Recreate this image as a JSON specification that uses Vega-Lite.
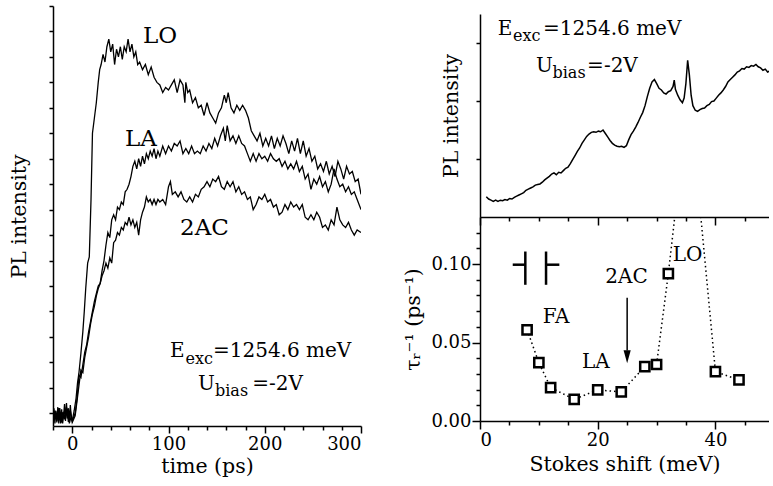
{
  "$schema": "https://vega.github.io/schema/vega-lite/v6.json",
  "background": "white",
  "padding": {"left": 9, "top": 5, "right": 0, "bottom": 0},
  "spacing": 41,
  "columns": 2,
  "align": "none",
  "config": {
    "font": "DejaVu Serif",
    "view": {"stroke": null},
    "axis": {
      "domainColor": "black", "tickColor": "black", "labelColor": "black", "titleColor": "black",
      "domainWidth": 1.5, "tickWidth": 1.5, "grid": false,
      "labelFont": "DejaVu Serif", "titleFont": "DejaVu Serif",
      "labelFontSize": 18, "titleFontSize": 20.5, "titleFontWeight": "normal"
    },
    "text": {"font": "DejaVu Serif", "color": "black"}
  },
  "concat": [
    {
      "width": 308,
      "height": 420,
      "layer": [
        {
          "data": {"values": [
            {"s":"LO","t":-20,"v":0.35},{"s":"LO","t":-19,"v":0.6},{"s":"LO","t":-18,"v":0.3},{"s":"LO","t":-17,"v":0.55},{"s":"LO","t":-16,"v":0.32},{"s":"LO","t":-15,"v":0.62},{"s":"LO","t":-14,"v":0.3},{"s":"LO","t":-13,"v":0.5},{"s":"LO","t":-12,"v":0.33},{"s":"LO","t":-11,"v":0.58},{"s":"LO","t":-10,"v":0.3},{"s":"LO","t":-9,"v":0.45},{"s":"LO","t":-8,"v":0.68},{"s":"LO","t":-7,"v":0.35},{"s":"LO","t":-6,"v":0.7},{"s":"LO","t":-5,"v":0.4},{"s":"LO","t":-4,"v":0.6},{"s":"LO","t":-3,"v":0.35},{"s":"LO","t":-2,"v":0.66},{"s":"LO","t":-1,"v":0.4},{"s":"LO","t":0,"v":0.35},
            {"s":"LO","t":2,"v":0.55},{"s":"LO","t":4,"v":0.8},{"s":"LO","t":5.5,"v":1.1},{"s":"LO","t":7,"v":1.3},{"s":"LO","t":9,"v":1.68},{"s":"LO","t":11,"v":2.1},{"s":"LO","t":12.5,"v":2.5},{"s":"LO","t":14,"v":2.95},{"s":"LO","t":16,"v":3.45},{"s":"LO","t":17.7,"v":3.57},{"s":"LO","t":19.5,"v":4.7},{"s":"LO","t":21,"v":6.0},{"s":"LO","t":23,"v":6.3},{"s":"LO","t":25,"v":6.6},{"s":"LO","t":27,"v":7.0},{"s":"LO","t":28.5,"v":7.25},
            {"s":"LO","t":30,"v":7.35},{"s":"LO","t":32,"v":7.55},{"s":"LO","t":34,"v":7.4},{"s":"LO","t":36,"v":7.7},{"s":"LO","t":38,"v":7.85},{"s":"LO","t":40,"v":7.6},{"s":"LO","t":42,"v":7.75},{"s":"LO","t":44,"v":7.35},{"s":"LO","t":46,"v":7.65},{"s":"LO","t":48,"v":7.5},{"s":"LO","t":50,"v":7.7},{"s":"LO","t":52,"v":7.45},{"s":"LO","t":54,"v":7.7},{"s":"LO","t":56,"v":7.6},{"s":"LO","t":58,"v":7.85},{"s":"LO","t":60,"v":7.6},{"s":"LO","t":62,"v":7.75},{"s":"LO","t":64,"v":7.5},{"s":"LO","t":66,"v":7.6},{"s":"LO","t":68,"v":7.35},{"s":"LO","t":70,"v":7.4},{"s":"LO","t":73,"v":7.25},{"s":"LO","t":76,"v":7.35},{"s":"LO","t":79,"v":7.15},{"s":"LO","t":82,"v":7.3},{"s":"LO","t":85,"v":7.1},{"s":"LO","t":88,"v":7.0},{"s":"LO","t":91,"v":6.95},{"s":"LO","t":94,"v":6.8},{"s":"LO","t":97,"v":6.9},{"s":"LO","t":100,"v":6.85},{"s":"LO","t":103,"v":6.95},{"s":"LO","t":106,"v":7.05},{"s":"LO","t":109,"v":6.8},{"s":"LO","t":112,"v":7.05},{"s":"LO","t":115,"v":6.95},{"s":"LO","t":117,"v":6.6},{"s":"LO","t":118,"v":7.0},{"s":"LO","t":120,"v":6.8},{"s":"LO","t":122,"v":6.85},{"s":"LO","t":125,"v":6.6},{"s":"LO","t":128,"v":6.7},{"s":"LO","t":131,"v":6.5},{"s":"LO","t":134,"v":6.55},{"s":"LO","t":137,"v":6.35},{"s":"LO","t":140,"v":6.6},{"s":"LO","t":143,"v":6.4},{"s":"LO","t":146,"v":6.3},{"s":"LO","t":149,"v":6.2},{"s":"LO","t":152,"v":6.4},{"s":"LO","t":155,"v":6.5},{"s":"LO","t":158,"v":6.75},{"s":"LO","t":160,"v":6.6},{"s":"LO","t":162,"v":6.8},{"s":"LO","t":165,"v":6.5},{"s":"LO","t":168,"v":6.4},{"s":"LO","t":171,"v":6.55},{"s":"LO","t":174,"v":6.45},{"s":"LO","t":177,"v":6.55},{"s":"LO","t":180,"v":6.45},{"s":"LO","t":183,"v":6.3},{"s":"LO","t":186,"v":6.05},{"s":"LO","t":189,"v":5.95},{"s":"LO","t":192,"v":5.85},{"s":"LO","t":195,"v":6.0},{"s":"LO","t":198,"v":5.75},{"s":"LO","t":201,"v":5.9},{"s":"LO","t":204,"v":5.75},{"s":"LO","t":207,"v":5.95},{"s":"LO","t":210,"v":5.7},{"s":"LO","t":213,"v":5.9},{"s":"LO","t":216,"v":5.75},{"s":"LO","t":219,"v":5.95},{"s":"LO","t":222,"v":5.8},{"s":"LO","t":225,"v":5.6},{"s":"LO","t":228,"v":5.85},{"s":"LO","t":231,"v":5.65},{"s":"LO","t":234,"v":5.9},{"s":"LO","t":237,"v":5.6},{"s":"LO","t":240,"v":5.85},{"s":"LO","t":243,"v":5.55},{"s":"LO","t":246,"v":5.7},{"s":"LO","t":249,"v":5.45},{"s":"LO","t":252,"v":5.55},{"s":"LO","t":255,"v":5.3},{"s":"LO","t":258,"v":5.4},{"s":"LO","t":261,"v":5.25},{"s":"LO","t":264,"v":5.45},{"s":"LO","t":267,"v":5.2},{"s":"LO","t":270,"v":5.35},{"s":"LO","t":273,"v":5.15},{"s":"LO","t":276,"v":5.45},{"s":"LO","t":279,"v":5.3},{"s":"LO","t":282,"v":5.1},{"s":"LO","t":285,"v":5.35},{"s":"LO","t":288,"v":5.2},{"s":"LO","t":291,"v":5.25},{"s":"LO","t":294,"v":5.05},{"s":"LO","t":297,"v":5.1},{"s":"LO","t":300,"v":4.8},

            {"s":"LA","t":-20,"v":0.4},{"s":"LA","t":-18,"v":0.55},{"s":"LA","t":-16,"v":0.35},{"s":"LA","t":-14,"v":0.6},{"s":"LA","t":-12,"v":0.3},{"s":"LA","t":-10,"v":0.52},{"s":"LA","t":-8,"v":0.38},{"s":"LA","t":-6,"v":0.62},{"s":"LA","t":-4,"v":0.33},{"s":"LA","t":-2,"v":0.55},{"s":"LA","t":0,"v":0.35},
            {"s":"LA","t":3,"v":0.5},{"s":"LA","t":5,"v":0.8},{"s":"LA","t":7,"v":1.25},{"s":"LA","t":9,"v":1.2},{"s":"LA","t":11,"v":1.45},{"s":"LA","t":13,"v":1.7},{"s":"LA","t":15,"v":1.85},{"s":"LA","t":17,"v":2.1},{"s":"LA","t":19,"v":2.3},{"s":"LA","t":21,"v":2.5},{"s":"LA","t":23,"v":2.7},{"s":"LA","t":25,"v":2.85},{"s":"LA","t":27,"v":3.0},{"s":"LA","t":29,"v":3.05},{"s":"LA","t":31,"v":3.3},{"s":"LA","t":33,"v":3.5},{"s":"LA","t":35,"v":3.8},{"s":"LA","t":37,"v":4.05},{"s":"LA","t":39,"v":3.95},{"s":"LA","t":41,"v":4.3},{"s":"LA","t":43,"v":4.4},{"s":"LA","t":45,"v":4.3},{"s":"LA","t":47,"v":4.55},{"s":"LA","t":49,"v":4.5},{"s":"LA","t":51,"v":4.65},{"s":"LA","t":53,"v":4.6},{"s":"LA","t":55,"v":4.85},{"s":"LA","t":57,"v":4.9},{"s":"LA","t":59,"v":5.0},{"s":"LA","t":61,"v":5.15},{"s":"LA","t":63,"v":5.35},{"s":"LA","t":65,"v":5.45},{"s":"LA","t":67,"v":5.3},{"s":"LA","t":69,"v":5.5},{"s":"LA","t":71,"v":5.35},{"s":"LA","t":73,"v":5.55},{"s":"LA","t":75,"v":5.4},{"s":"LA","t":77,"v":5.6},{"s":"LA","t":79,"v":5.5},{"s":"LA","t":81,"v":5.65},{"s":"LA","t":83,"v":5.55},{"s":"LA","t":85,"v":5.7},{"s":"LA","t":87,"v":5.5},{"s":"LA","t":89,"v":5.65},{"s":"LA","t":91,"v":5.55},{"s":"LA","t":94,"v":5.75},{"s":"LA","t":97,"v":5.6},{"s":"LA","t":100,"v":5.75},{"s":"LA","t":103,"v":5.65},{"s":"LA","t":106,"v":5.8},{"s":"LA","t":109,"v":5.75},{"s":"LA","t":112,"v":5.85},{"s":"LA","t":115,"v":5.6},{"s":"LA","t":118,"v":5.7},{"s":"LA","t":121,"v":5.6},{"s":"LA","t":124,"v":5.75},{"s":"LA","t":127,"v":5.6},{"s":"LA","t":130,"v":5.65},{"s":"LA","t":133,"v":5.6},{"s":"LA","t":136,"v":5.75},{"s":"LA","t":139,"v":5.65},{"s":"LA","t":142,"v":5.8},{"s":"LA","t":145,"v":5.7},{"s":"LA","t":148,"v":5.9},{"s":"LA","t":151,"v":5.75},{"s":"LA","t":154,"v":5.95},{"s":"LA","t":157,"v":6.1},{"s":"LA","t":159,"v":5.85},{"s":"LA","t":161,"v":6.15},{"s":"LA","t":164,"v":5.85},{"s":"LA","t":167,"v":5.95},{"s":"LA","t":170,"v":5.8},{"s":"LA","t":173,"v":5.95},{"s":"LA","t":176,"v":5.8},{"s":"LA","t":179,"v":5.75},{"s":"LA","t":182,"v":5.6},{"s":"LA","t":185,"v":5.45},{"s":"LA","t":188,"v":5.6},{"s":"LA","t":191,"v":5.45},{"s":"LA","t":194,"v":5.6},{"s":"LA","t":197,"v":5.5},{"s":"LA","t":200,"v":5.55},{"s":"LA","t":203,"v":5.45},{"s":"LA","t":206,"v":5.6},{"s":"LA","t":209,"v":5.5},{"s":"LA","t":212,"v":5.45},{"s":"LA","t":215,"v":5.5},{"s":"LA","t":218,"v":5.35},{"s":"LA","t":221,"v":5.45},{"s":"LA","t":224,"v":5.3},{"s":"LA","t":227,"v":5.4},{"s":"LA","t":230,"v":5.3},{"s":"LA","t":233,"v":5.45},{"s":"LA","t":236,"v":5.25},{"s":"LA","t":239,"v":5.35},{"s":"LA","t":242,"v":5.1},{"s":"LA","t":245,"v":5.2},{"s":"LA","t":248,"v":4.9},{"s":"LA","t":251,"v":5.1},{"s":"LA","t":254,"v":5.0},{"s":"LA","t":257,"v":5.15},{"s":"LA","t":260,"v":4.95},{"s":"LA","t":263,"v":5.05},{"s":"LA","t":266,"v":4.85},{"s":"LA","t":269,"v":5.0},{"s":"LA","t":272,"v":5.3},{"s":"LA","t":275,"v":5.1},{"s":"LA","t":278,"v":4.95},{"s":"LA","t":281,"v":5.0},{"s":"LA","t":284,"v":4.85},{"s":"LA","t":287,"v":4.95},{"s":"LA","t":290,"v":4.8},{"s":"LA","t":293,"v":4.85},{"s":"LA","t":296,"v":4.7},{"s":"LA","t":300,"v":4.5},

            {"s":"2AC","t":-20,"v":0.3},{"s":"2AC","t":-17,"v":0.5},{"s":"2AC","t":-15,"v":0.38},{"s":"2AC","t":-13,"v":0.6},{"s":"2AC","t":-11,"v":0.32},{"s":"2AC","t":-9,"v":0.5},{"s":"2AC","t":-7,"v":0.4},{"s":"2AC","t":-5,"v":0.58},{"s":"2AC","t":-3,"v":0.3},{"s":"2AC","t":-1,"v":0.45},{"s":"2AC","t":0,"v":0.32},
            {"s":"2AC","t":3,"v":0.45},{"s":"2AC","t":5,"v":0.75},{"s":"2AC","t":7,"v":1.05},{"s":"2AC","t":9,"v":1.35},{"s":"2AC","t":11,"v":1.3},{"s":"2AC","t":13,"v":1.6},{"s":"2AC","t":15,"v":1.8},{"s":"2AC","t":17,"v":2.0},{"s":"2AC","t":19,"v":2.25},{"s":"2AC","t":21,"v":2.45},{"s":"2AC","t":23,"v":2.6},{"s":"2AC","t":25,"v":2.8},{"s":"2AC","t":27,"v":2.95},{"s":"2AC","t":29,"v":3.05},{"s":"2AC","t":31,"v":3.2},{"s":"2AC","t":33,"v":3.3},{"s":"2AC","t":35,"v":3.45},{"s":"2AC","t":37,"v":3.35},{"s":"2AC","t":39,"v":3.55},{"s":"2AC","t":41,"v":3.45},{"s":"2AC","t":43,"v":3.85},{"s":"2AC","t":45,"v":3.9},{"s":"2AC","t":47,"v":4.05},{"s":"2AC","t":49,"v":4.0},{"s":"2AC","t":51,"v":4.15},{"s":"2AC","t":53,"v":4.1},{"s":"2AC","t":55,"v":4.25},{"s":"2AC","t":57,"v":4.2},{"s":"2AC","t":59,"v":4.35},{"s":"2AC","t":61,"v":4.2},{"s":"2AC","t":63,"v":4.3},{"s":"2AC","t":65,"v":4.15},{"s":"2AC","t":67,"v":4.25},{"s":"2AC","t":69,"v":4.0},{"s":"2AC","t":71,"v":4.3},{"s":"2AC","t":73,"v":4.45},{"s":"2AC","t":75,"v":4.55},{"s":"2AC","t":77,"v":4.75},{"s":"2AC","t":79,"v":4.65},{"s":"2AC","t":81,"v":4.7},{"s":"2AC","t":83,"v":4.6},{"s":"2AC","t":85,"v":4.7},{"s":"2AC","t":87,"v":4.6},{"s":"2AC","t":89,"v":4.7},{"s":"2AC","t":91,"v":4.65},{"s":"2AC","t":94,"v":4.7},{"s":"2AC","t":97,"v":4.6},{"s":"2AC","t":100,"v":4.95},{"s":"2AC","t":102,"v":5.05},{"s":"2AC","t":104,"v":4.8},{"s":"2AC","t":107,"v":4.85},{"s":"2AC","t":110,"v":4.75},{"s":"2AC","t":113,"v":4.85},{"s":"2AC","t":116,"v":4.7},{"s":"2AC","t":119,"v":4.65},{"s":"2AC","t":122,"v":4.75},{"s":"2AC","t":125,"v":4.65},{"s":"2AC","t":128,"v":4.8},{"s":"2AC","t":131,"v":4.75},{"s":"2AC","t":134,"v":4.9},{"s":"2AC","t":137,"v":4.95},{"s":"2AC","t":140,"v":5.05},{"s":"2AC","t":143,"v":4.95},{"s":"2AC","t":146,"v":5.1},{"s":"2AC","t":149,"v":5.05},{"s":"2AC","t":152,"v":5.15},{"s":"2AC","t":155,"v":4.95},{"s":"2AC","t":158,"v":4.9},{"s":"2AC","t":161,"v":5.05},{"s":"2AC","t":164,"v":4.95},{"s":"2AC","t":167,"v":5.05},{"s":"2AC","t":170,"v":4.85},{"s":"2AC","t":173,"v":4.95},{"s":"2AC","t":176,"v":4.8},{"s":"2AC","t":179,"v":4.85},{"s":"2AC","t":182,"v":4.7},{"s":"2AC","t":185,"v":4.75},{"s":"2AC","t":188,"v":4.5},{"s":"2AC","t":191,"v":4.6},{"s":"2AC","t":194,"v":4.75},{"s":"2AC","t":197,"v":4.7},{"s":"2AC","t":200,"v":4.8},{"s":"2AC","t":203,"v":4.65},{"s":"2AC","t":206,"v":4.7},{"s":"2AC","t":209,"v":4.55},{"s":"2AC","t":212,"v":4.6},{"s":"2AC","t":215,"v":4.4},{"s":"2AC","t":218,"v":4.45},{"s":"2AC","t":221,"v":4.6},{"s":"2AC","t":224,"v":4.5},{"s":"2AC","t":227,"v":4.65},{"s":"2AC","t":230,"v":4.55},{"s":"2AC","t":233,"v":4.6},{"s":"2AC","t":236,"v":4.5},{"s":"2AC","t":239,"v":4.6},{"s":"2AC","t":242,"v":4.35},{"s":"2AC","t":245,"v":4.3},{"s":"2AC","t":248,"v":4.4},{"s":"2AC","t":251,"v":4.3},{"s":"2AC","t":254,"v":4.45},{"s":"2AC","t":257,"v":4.35},{"s":"2AC","t":260,"v":4.15},{"s":"2AC","t":263,"v":4.2},{"s":"2AC","t":266,"v":4.1},{"s":"2AC","t":269,"v":4.3},{"s":"2AC","t":272,"v":4.2},{"s":"2AC","t":275,"v":4.55},{"s":"2AC","t":278,"v":4.3},{"s":"2AC","t":281,"v":4.2},{"s":"2AC","t":284,"v":4.15},{"s":"2AC","t":287,"v":4.25},{"s":"2AC","t":290,"v":4.1},{"s":"2AC","t":293,"v":4.0},{"s":"2AC","t":296,"v":4.1},{"s":"2AC","t":300,"v":4.05}
          ]},
          "mark": {"type": "line", "color": "black", "strokeWidth": 1.3, "clip": true},
          "encoding": {
            "x": {"field": "t", "type": "quantitative", "scale": {"domain": [-20, 300], "nice": false, "zero": false},
                  "axis": {"title": "time (ps)", "values": [0, 100, 200, 300], "tickSize": 7, "labelPadding": 2, "titlePadding": 3}},
            "y": {"field": "v", "type": "quantitative", "scale": {"domain": [0.25, 8.5], "nice": false, "zero": false},
                  "axis": {"title": "PL intensity", "labels": false, "values": [0.5,1,1.5,2,2.5,3,3.5,4,4.5,5,5.5,6,6.5,7,7.5,8,8.5], "tickSize": 4, "titlePadding": 19}},
            "detail": {"field": "s"}
          }
        },
        {
          "data": {"values": [
            {"t": 73.5, "v": 7.77, "txt": "LO"},
            {"t": 54.8, "v": 5.75, "txt": "LA"},
            {"t": 112, "v": 4.0, "txt": "2AC"}
          ]},
          "mark": {"type": "text", "align": "left", "baseline": "alphabetic", "fontSize": 23},
          "encoding": {
            "x": {"field": "t", "type": "quantitative",
                  "axis": {"title": null, "labels": false, "domain": false, "orient": "bottom", "values": [-20,20,40,60,80,120,140,160,180,220,240,260,280], "tickSize": 4}},
            "y": {"field": "v", "type": "quantitative", "axis": null},
            "text": {"field": "txt"}
          }
        },
        {
          "data": {"values": [
            {"t": 101.6, "v": 1.61, "txt": "E"},
            {"t": 146.2, "v": 1.61, "txt": "=1254.6 meV"},
            {"t": 130.6, "v": 0.96, "txt": "U"},
            {"t": 187, "v": 0.96, "txt": "=-2V"}
          ]},
          "mark": {"type": "text", "align": "left", "baseline": "alphabetic", "fontSize": 20},
          "encoding": {
            "x": {"field": "t", "type": "quantitative", "axis": null},
            "y": {"field": "v", "type": "quantitative", "axis": null},
            "text": {"field": "txt"}
          }
        },
        {
          "data": {"values": [
            {"t": 117.7, "v": 1.47, "txt": "exc"},
            {"t": 148.3, "v": 0.83, "txt": "bias"}
          ]},
          "mark": {"type": "text", "align": "left", "baseline": "alphabetic", "fontSize": 16},
          "encoding": {
            "x": {"field": "t", "type": "quantitative", "axis": null},
            "y": {"field": "v", "type": "quantitative", "axis": null},
            "text": {"field": "txt"}
          }
        }
      ],
      "resolve": {"axis": {"x": "independent", "y": "independent"}}
    },
    {
      "bounds": "flush",
      "spacing": 0,
      "vconcat": [
        {
          "width": 289,
          "height": 7.7,
          "data": {"values": [{"k": 1}]},
          "mark": {"type": "point", "opacity": 0},
          "encoding": {}
        },
        {
          "width": 289,
          "height": 203,
          "layer": [
            {
              "data": {"values": [
                {"x":1.07,"v":0.35},{"x":1.47,"v":0.31},{"x":1.86,"v":0.29},{"x":2.26,"v":0.27},{"x":2.66,"v":0.29},{"x":3.05,"v":0.27},{"x":3.45,"v":0.29},{"x":3.85,"v":0.28},{"x":4.24,"v":0.30},{"x":4.64,"v":0.29},{"x":5.04,"v":0.32},{"x":5.43,"v":0.31},{"x":5.83,"v":0.34},{"x":6.23,"v":0.36},{"x":6.62,"v":0.38},{"x":7.02,"v":0.40},{"x":7.42,"v":0.42},{"x":7.81,"v":0.46},{"x":8.21,"v":0.48},{"x":8.61,"v":0.50},{"x":9.0,"v":0.52},{"x":9.4,"v":0.55},{"x":9.8,"v":0.56},{"x":10.19,"v":0.57},{"x":10.59,"v":0.60},{"x":10.99,"v":0.64},{"x":11.38,"v":0.67},{"x":11.78,"v":0.70},{"x":12.18,"v":0.74},{"x":12.57,"v":0.76},{"x":12.97,"v":0.73},{"x":13.37,"v":0.77},{"x":13.76,"v":0.76},{"x":14.16,"v":0.80},{"x":14.56,"v":0.84},{"x":14.95,"v":0.86},{"x":15.35,"v":0.92},{"x":15.74,"v":0.99},{"x":16.14,"v":1.06},{"x":16.54,"v":1.13},{"x":16.93,"v":1.19},{"x":17.33,"v":1.27},{"x":17.73,"v":1.33},{"x":18.12,"v":1.39},{"x":18.52,"v":1.43},{"x":18.92,"v":1.46},{"x":19.31,"v":1.47},{"x":19.71,"v":1.46},{"x":20.11,"v":1.48},{"x":20.5,"v":1.47},{"x":20.9,"v":1.50},{"x":21.3,"v":1.44},{"x":21.69,"v":1.38},{"x":22.09,"v":1.32},{"x":22.49,"v":1.27},{"x":22.88,"v":1.24},{"x":23.28,"v":1.22},{"x":23.68,"v":1.21},{"x":24.07,"v":1.22},{"x":24.47,"v":1.20},{"x":24.87,"v":1.23},{"x":25.26,"v":1.33},{"x":25.66,"v":1.42},{"x":26.06,"v":1.48},{"x":26.45,"v":1.55},{"x":26.85,"v":1.63},{"x":27.25,"v":1.72},{"x":27.64,"v":1.80},{"x":28.04,"v":1.92},{"x":28.44,"v":2.08},{"x":28.83,"v":2.22},{"x":29.23,"v":2.33},{"x":29.63,"v":2.37},{"x":30.02,"v":2.30},{"x":30.42,"v":2.22},{"x":30.82,"v":2.19},{"x":31.21,"v":2.14},{"x":31.61,"v":2.12},{"x":32.0,"v":2.16},{"x":32.4,"v":2.18},{"x":32.8,"v":2.25},{"x":33.0,"v":2.36},{"x":33.2,"v":2.20},{"x":33.59,"v":2.10},{"x":33.99,"v":2.02},{"x":34.39,"v":1.97},{"x":34.68,"v":2.05},{"x":34.98,"v":2.30},{"x":35.28,"v":2.70},{"x":35.57,"v":2.45},{"x":35.87,"v":2.10},{"x":36.17,"v":1.92},{"x":36.57,"v":1.84},{"x":36.96,"v":1.82},{"x":37.36,"v":1.85},{"x":37.76,"v":1.87},{"x":38.15,"v":1.88},{"x":38.55,"v":1.92},{"x":38.95,"v":1.94},{"x":39.34,"v":1.99},{"x":39.74,"v":2.00},{"x":40.14,"v":2.05},{"x":40.53,"v":2.10},{"x":40.93,"v":2.14},{"x":41.33,"v":2.19},{"x":41.72,"v":2.25},{"x":42.12,"v":2.33},{"x":42.52,"v":2.37},{"x":42.91,"v":2.41},{"x":43.31,"v":2.45},{"x":43.71,"v":2.50},{"x":44.1,"v":2.52},{"x":44.5,"v":2.56},{"x":44.89,"v":2.55},{"x":45.29,"v":2.59},{"x":45.69,"v":2.58},{"x":46.08,"v":2.61},{"x":46.48,"v":2.60},{"x":46.88,"v":2.63},{"x":47.27,"v":2.59},{"x":47.67,"v":2.57},{"x":48.07,"v":2.53},{"x":48.47,"v":2.55},{"x":48.86,"v":2.50},{"x":49.26,"v":2.52}
              ]},
              "mark": {"type": "line", "color": "black", "strokeWidth": 1.5, "clip": true},
              "encoding": {
                "x": {"field": "x", "type": "quantitative", "scale": {"domain": [0, 49.1], "nice": false, "zero": false},
                      "axis": {"title": null, "labels": false, "values": [0, 20, 40], "tickSize": 8, "orient": "bottom"}},
                "y": {"field": "v", "type": "quantitative", "scale": {"domain": [0, 3.5], "nice": false, "zero": false},
                      "axis": {"title": "PL intensity", "labels": false, "values": [1, 2, 3], "tickSize": 4, "titlePadding": 14}}
              }
            },
            {
              "data": {"values": [
                {"x": 3.0, "v": 3.14, "txt": "E"},
                {"x": 10.71, "v": 3.14, "txt": "=1254.6 meV"},
                {"x": 9.52, "v": 2.5, "txt": "U"},
                {"x": 18.2, "v": 2.5, "txt": "=-2V"}
              ]},
              "mark": {"type": "text", "align": "left", "baseline": "alphabetic", "fontSize": 20},
              "encoding": {
                "x": {"field": "x", "type": "quantitative",
                      "axis": {"title": null, "labels": false, "domain": false, "orient": "bottom", "values": [5, 10, 15, 25, 30, 35, 45], "tickSize": 4}},
                "y": {"field": "v", "type": "quantitative", "axis": null},
                "text": {"field": "txt"}
              }
            },
            {
              "data": {"values": [
                {"x": 5.61, "v": 3.03, "txt": "exc"},
                {"x": 12.32, "v": 2.4, "txt": "bias"}
              ]},
              "mark": {"type": "text", "align": "left", "baseline": "alphabetic", "fontSize": 16},
              "encoding": {
                "x": {"field": "x", "type": "quantitative", "axis": null},
                "y": {"field": "v", "type": "quantitative", "axis": null},
                "text": {"field": "txt"}
              }
            }
          ],
          "resolve": {"axis": {"x": "independent", "y": "independent"}}
        },
        {
          "width": 289,
          "height": 204,
          "layer": [
            {
              "data": {"values": [
                {"x": 8, "r": 0.0581}, {"x": 10, "r": 0.0372}, {"x": 12, "r": 0.0213}, {"x": 16, "r": 0.0138},
                {"x": 20, "r": 0.0198}, {"x": 24, "r": 0.0185}, {"x": 28, "r": 0.0347}, {"x": 30, "r": 0.036},
                {"x": 32, "r": 0.0939}, {"x": 35.5, "r": 0.21}, {"x": 40, "r": 0.0315}, {"x": 44, "r": 0.0262}
              ]},
              "layer": [
                {
                  "mark": {"type": "line", "color": "black", "strokeWidth": 1.5, "strokeDash": [1.5, 3], "clip": true},
                  "encoding": {
                    "x": {"field": "x", "type": "quantitative", "scale": {"domain": [0, 49.1], "nice": false, "zero": false},
                          "axis": {"title": "Stokes shift (meV)", "values": [0, 20, 40], "tickSize": 8, "labelPadding": 2, "titlePadding": 5}},
                    "y": {"field": "r", "type": "quantitative", "scale": {"domain": [0, 0.13], "nice": false, "zero": false},
                          "axis": {"title": "τᵣ⁻¹ (ps⁻¹)", "values": [0, 0.05, 0.1], "format": ".2f", "tickSize": 8, "labelPadding": 1, "titlePadding": 7}}
                  }
                },
                {
                  "mark": {"type": "point", "shape": "square", "filled": true, "fill": "white", "stroke": "black", "strokeWidth": 2.5, "size": 85, "opacity": 1, "clip": true},
                  "encoding": {
                    "x": {"field": "x", "type": "quantitative",
                          "axis": {"title": null, "labels": false, "domain": false, "orient": "bottom", "values": [5, 10, 15, 25, 30, 35, 45], "tickSize": 4}},
                    "y": {"field": "r", "type": "quantitative",
                          "axis": {"title": null, "labels": false, "domain": false, "orient": "left", "values": [0.01, 0.02, 0.03, 0.04, 0.06, 0.07, 0.08, 0.09, 0.11, 0.12], "tickSize": 4}}
                  }
                }
              ],
              "resolve": {"axis": {"x": "independent", "y": "independent"}}
            },
            {
              "data": {"values": [
                {"x": 7.7, "x2": 7.7, "y": 0.0868, "y2": 0.108},
                {"x": 5.56, "x2": 7.7, "y": 0.0996, "y2": 0.0996},
                {"x": 11.22, "x2": 11.22, "y": 0.0868, "y2": 0.108},
                {"x": 11.22, "x2": 13.48, "y": 0.0996, "y2": 0.0996}
              ]},
              "mark": {"type": "rule", "color": "black", "strokeWidth": 2.5},
              "encoding": {
                "x": {"field": "x", "type": "quantitative", "axis": null},
                "x2": {"field": "x2"},
                "y": {"field": "y", "type": "quantitative", "axis": null},
                "y2": {"field": "y2"}
              }
            },
            {
              "data": {"values": [{"x": 25, "y": 0.0785, "y2": 0.045}]},
              "mark": {"type": "rule", "color": "black", "strokeWidth": 1.5},
              "encoding": {
                "x": {"field": "x", "type": "quantitative", "axis": null},
                "y": {"field": "y", "type": "quantitative", "axis": null},
                "y2": {"field": "y2"}
              }
            },
            {
              "data": {"values": [{"x": 25, "y": 0.041}]},
              "mark": {"type": "point", "shape": "M-0.55,-1L0.55,-1L0,1Z", "filled": true, "color": "black", "opacity": 1, "size": 170},
              "encoding": {
                "x": {"field": "x", "type": "quantitative", "axis": null},
                "y": {"field": "y", "type": "quantitative", "axis": null}
              }
            },
            {
              "data": {"values": [
                {"x": 10.66, "y": 0.0623, "txt": "FA"},
                {"x": 17.34, "y": 0.034, "txt": "LA"},
                {"x": 21.3, "y": 0.0879, "txt": "2AC"},
                {"x": 32.76, "y": 0.1017, "txt": "LO"}
              ]},
              "mark": {"type": "text", "align": "left", "baseline": "alphabetic", "fontSize": 20},
              "encoding": {
                "x": {"field": "x", "type": "quantitative", "axis": null},
                "y": {"field": "y", "type": "quantitative", "axis": null},
                "text": {"field": "txt"}
              }
            }
          ],
          "resolve": {"axis": {"x": "independent", "y": "independent"}}
        }
      ]
    }
  ]
}
